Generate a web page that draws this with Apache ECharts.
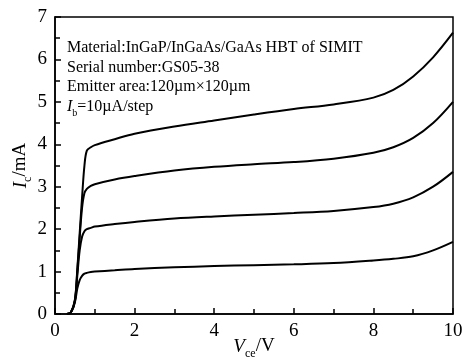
<!DOCTYPE html>
<html>
<head>
<meta charset="utf-8">
<script src="https://cdn.jsdelivr.net/npm/echarts@6/dist/echarts.min.js"></script>
<style>
  html, body { margin: 0; padding: 0; background: #fff; }
  #chart { width: 466px; height: 359px; }
</style>
</head>
<body>
<div id="chart"></div>
<script>
// Vce sample points (V), shared by all curves
let vce = [0.30, 0.40, 0.50, 0.56, 0.62, 0.68, 0.74, 0.80, 0.90, 1.0, 1.5, 2, 3, 4, 5, 6, 7, 8, 8.5, 9, 9.5, 10]

// Ic (mA) for each base current step
let ic1 = [0, 0.04, 0.28, 0.60, 0.80, 0.90, 0.95, 0.97, 0.99, 1.00, 1.03, 1.06, 1.10, 1.13, 1.15, 1.17, 1.20, 1.26, 1.30, 1.36, 1.50, 1.70]
let ic2 = [0, 0.04, 0.30, 0.90, 1.50, 1.82, 1.95, 2.00, 2.03, 2.06, 2.12, 2.17, 2.25, 2.30, 2.34, 2.38, 2.43, 2.52, 2.60, 2.75, 3.00, 3.35]
let ic3 = [0, 0.04, 0.32, 1.00, 1.80, 2.50, 2.85, 2.95, 3.02, 3.06, 3.17, 3.25, 3.38, 3.47, 3.53, 3.58, 3.66, 3.80, 3.93, 4.15, 4.50, 5.00]
let ic4 = [0, 0.04, 0.34, 1.05, 1.90, 2.75, 3.50, 3.85, 3.93, 3.98, 4.12, 4.25, 4.42, 4.56, 4.70, 4.83, 4.94, 5.10, 5.28, 5.60, 6.05, 6.63]

let xTicks = [0, 2, 4, 6, 8, 10]
let yTicks = [0, 1, 2, 3, 4, 5, 6, 7]

let legendLines = [
  '{n|Material:InGaP/InGaAs/GaAs HBT of SIMIT}',
  '{n|Serial number:GS05-38}',
  '{n|Emitter area:120\u00b5m\u00d7120\u00b5m}',
  '{i|I}{s|b}{n|=10\u00b5A/step}'
]

const FONT = '"Liberation Serif", "Times New Roman", serif'

function pairs(ys) {
  return vce.map((v, k) => [v, ys[k]])
}

function curve(ys) {
  return {
    type: 'line',
    data: pairs(ys),
    smooth: 0.35,
    showSymbol: false,
    lineStyle: { color: '#000', width: 2 }
  }
}

// subscripts: taller line box, token pinned to its bottom
let nameRich = {
  i: { fontFamily: FONT, fontSize: 19, fontStyle: 'italic', color: '#000', lineHeight: 20, verticalAlign: 'top' },
  s: { fontFamily: FONT, fontSize: 12, color: '#000', lineHeight: 23, verticalAlign: 'bottom' },
  n: { fontFamily: FONT, fontSize: 19, color: '#000', lineHeight: 20, verticalAlign: 'top' }
}

let legendRich = {
  i: { fontFamily: FONT, fontSize: 16, fontStyle: 'italic', color: '#000', lineHeight: 18, verticalAlign: 'top' },
  s: { fontFamily: FONT, fontSize: 10, color: '#000', lineHeight: 20, verticalAlign: 'bottom' },
  n: { fontFamily: FONT, fontSize: 16, color: '#000', lineHeight: 18, verticalAlign: 'top' }
}

let axisCommon = {
  type: 'value',
  axisLine: { show: true, lineStyle: { color: '#000', width: 1.5 } },
  axisTick: { show: true, inside: true, length: 6, lineStyle: { color: '#000', width: 1.5 } },
  minorTick: { show: true, splitNumber: 2, length: 5, lineStyle: { color: '#000', width: 1.5 } },
  splitLine: { show: false },
  nameLocation: 'middle',
  nameMoveOverlap: false
}

let option = {
  animation: false,
  backgroundColor: '#fff',
  grid: {
    left: 55, right: 13, top: 17, bottom: 45,
    outerBoundsMode: 'none',
    show: true, borderColor: '#000', borderWidth: 1.5
  },
  xAxis: Object.assign({}, axisCommon, {
    min: xTicks[0],
    max: xTicks[xTicks.length - 1],
    interval: xTicks[1] - xTicks[0],
    axisLabel: { color: '#000', fontFamily: FONT, fontSize: 19, margin: 8 },
    name: '{i|V}{s|ce}{n|/V}',
    nameGap: 23,
    nameTextStyle: { rich: nameRich }
  }),
  yAxis: Object.assign({}, axisCommon, {
    min: yTicks[0],
    max: yTicks[yTicks.length - 1],
    interval: yTicks[1] - yTicks[0],
    axisLabel: { color: '#000', fontFamily: FONT, fontSize: 19, margin: 8 },
    name: '{i|I}{s|c}{n|/mA}',
    nameRotate: 90,
    nameGap: 21,
    nameTextStyle: { rich: nameRich }
  }),
  graphic: legendLines.map((t, k) => ({
    type: 'text',
    left: 67,
    top: 40 + k * 19.5,
    style: { text: t, rich: legendRich }
  })),
  series: [curve(ic1), curve(ic2), curve(ic3), curve(ic4)]
}

let chart = echarts.init(document.getElementById('chart'))
chart.setOption(option)
</script>
</body>
</html>
